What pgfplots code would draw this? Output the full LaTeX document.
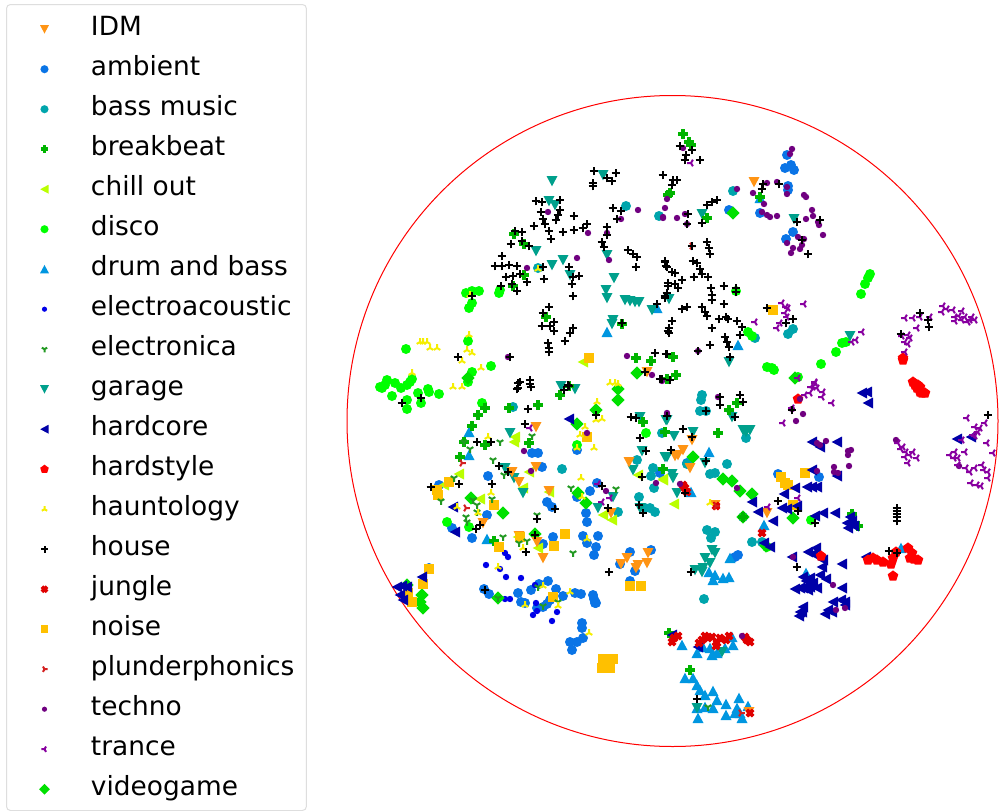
\documentclass[border=0pt]{standalone}
\usepackage{pgfplots}
\pgfplotsset{compat=1.18}
\usepackage{fontspec}
\setmainfont{DejaVu Sans}
\definecolor{cIDM}{HTML}{FF9414}
\definecolor{cAmb}{HTML}{0A74E6}
\definecolor{cBass}{HTML}{00A5AC}
\definecolor{cBreak}{HTML}{00B400}
\definecolor{cChill}{HTML}{BAFF00}
\definecolor{cDisco}{HTML}{00FF00}
\definecolor{cDrum}{HTML}{0096E0}
\definecolor{cEa}{HTML}{0000E8}
\definecolor{cEl}{HTML}{229922}
\definecolor{cGar}{HTML}{00A08C}
\definecolor{cHc}{HTML}{0000A8}
\definecolor{cHs}{HTML}{FF0000}
\definecolor{cHau}{HTML}{F5EE00}
\definecolor{cJun}{HTML}{E00000}
\definecolor{cNoi}{HTML}{FFC000}
\definecolor{cPlu}{HTML}{D42020}
\definecolor{cTec}{HTML}{700080}
\definecolor{cTra}{HTML}{8800A0}
\definecolor{cVid}{HTML}{00E000}
\pgfdeclareplotmark{mDown}{\pgfpathmoveto{\pgfpoint{-5.5pt}{5pt}}\pgfpathlineto{\pgfpoint{5.5pt}{5pt}}\pgfpathlineto{\pgfpoint{0pt}{-5.3pt}}\pgfpathclose\pgfusepathqfill}
\pgfdeclareplotmark{mUp}{\pgfpathmoveto{\pgfpoint{-5.5pt}{-5pt}}\pgfpathlineto{\pgfpoint{5.5pt}{-5pt}}\pgfpathlineto{\pgfpoint{0pt}{5.3pt}}\pgfpathclose\pgfusepathqfill}
\pgfdeclareplotmark{mLeft}{\pgfpathmoveto{\pgfpoint{5pt}{-5.5pt}}\pgfpathlineto{\pgfpoint{5pt}{5.5pt}}\pgfpathlineto{\pgfpoint{-5.3pt}{0pt}}\pgfpathclose\pgfusepathqfill}
\pgfdeclareplotmark{mCirc}{\pgfpathcircle{\pgfpointorigin}{5pt}\pgfusepathqfill}
\pgfdeclareplotmark{mDot}{\pgfpathcircle{\pgfpointorigin}{3.2pt}\pgfusepathqfill}
\pgfdeclareplotmark{mSq}{\pgfpathrectangle{\pgfpoint{-4.8pt}{-4.8pt}}{\pgfpoint{9.6pt}{9.6pt}}\pgfusepathqfill}
\pgfdeclareplotmark{mDia}{\pgfpathmoveto{\pgfpoint{-6.6pt}{0pt}}\pgfpathlineto{\pgfpoint{0pt}{6.6pt}}\pgfpathlineto{\pgfpoint{6.6pt}{0pt}}\pgfpathlineto{\pgfpoint{0pt}{-6.6pt}}\pgfpathclose\pgfusepathqfill}
\pgfdeclareplotmark{mPent}{\pgfpathmoveto{\pgfpoint{0pt}{5.6pt}}\pgfpathlineto{\pgfpoint{5.3pt}{1.7pt}}\pgfpathlineto{\pgfpoint{3.3pt}{-4.5pt}}\pgfpathlineto{\pgfpoint{-3.3pt}{-4.5pt}}\pgfpathlineto{\pgfpoint{-5.3pt}{1.7pt}}\pgfpathclose\pgfusepathqfill}
\pgfdeclareplotmark{mP}{\pgfsetlinewidth{3.6pt}\pgfpathmoveto{\pgfpoint{-4.8pt}{0pt}}\pgfpathlineto{\pgfpoint{4.8pt}{0pt}}\pgfpathmoveto{\pgfpoint{0pt}{-4.8pt}}\pgfpathlineto{\pgfpoint{0pt}{4.8pt}}\pgfusepathqstroke}
\pgfdeclareplotmark{mX}{\pgfsetlinewidth{3.6pt}\pgfpathmoveto{\pgfpoint{-3.2pt}{-3.2pt}}\pgfpathlineto{\pgfpoint{3.2pt}{3.2pt}}\pgfpathmoveto{\pgfpoint{-3.2pt}{3.2pt}}\pgfpathlineto{\pgfpoint{3.2pt}{-3.2pt}}\pgfusepathqstroke}
\pgfdeclareplotmark{mPlus}{\pgfsetlinewidth{2pt}\pgfpathmoveto{\pgfpoint{-4.3pt}{0pt}}\pgfpathlineto{\pgfpoint{4.3pt}{0pt}}\pgfpathmoveto{\pgfpoint{0pt}{-4.3pt}}\pgfpathlineto{\pgfpoint{0pt}{4.3pt}}\pgfusepathqstroke}
\pgfdeclareplotmark{mT1}{\pgfsetlinewidth{2pt}\pgfpathmoveto{\pgfpointorigin}\pgfpathlineto{\pgfpoint{0pt}{-3.8pt}}\pgfpathmoveto{\pgfpointorigin}\pgfpathlineto{\pgfpoint{3.3pt}{1.9pt}}\pgfpathmoveto{\pgfpointorigin}\pgfpathlineto{\pgfpoint{-3.3pt}{1.9pt}}\pgfusepathqstroke}
\pgfdeclareplotmark{mT2}{\pgfsetlinewidth{2pt}\pgfpathmoveto{\pgfpointorigin}\pgfpathlineto{\pgfpoint{0pt}{3.8pt}}\pgfpathmoveto{\pgfpointorigin}\pgfpathlineto{\pgfpoint{3.3pt}{-1.9pt}}\pgfpathmoveto{\pgfpointorigin}\pgfpathlineto{\pgfpoint{-3.3pt}{-1.9pt}}\pgfusepathqstroke}
\pgfdeclareplotmark{mT3}{\pgfsetlinewidth{2pt}\pgfpathmoveto{\pgfpointorigin}\pgfpathlineto{\pgfpoint{-3.8pt}{0pt}}\pgfpathmoveto{\pgfpointorigin}\pgfpathlineto{\pgfpoint{1.9pt}{3.3pt}}\pgfpathmoveto{\pgfpointorigin}\pgfpathlineto{\pgfpoint{1.9pt}{-3.3pt}}\pgfusepathqstroke}
\pgfdeclareplotmark{mT4}{\pgfsetlinewidth{2pt}\pgfpathmoveto{\pgfpointorigin}\pgfpathlineto{\pgfpoint{3.8pt}{0pt}}\pgfpathmoveto{\pgfpointorigin}\pgfpathlineto{\pgfpoint{-1.9pt}{3.3pt}}\pgfpathmoveto{\pgfpointorigin}\pgfpathlineto{\pgfpoint{-1.9pt}{-3.3pt}}\pgfusepathqstroke}
\pgfplotsset{
 sIDM/.style={only marks,color=cIDM,mark=mDown},
 sAmb/.style={only marks,color=cAmb,mark=mCirc},
 sBass/.style={only marks,color=cBass,mark=mCirc},
 sBreak/.style={only marks,color=cBreak,mark=mP},
 sChill/.style={only marks,color=cChill,mark=mLeft},
 sDisco/.style={only marks,color=cDisco,mark=mCirc},
 sDrum/.style={only marks,color=cDrum,mark=mUp},
 sEa/.style={only marks,color=cEa,mark=mDot},
 sEl/.style={only marks,color=cEl,mark=mT1},
 sGar/.style={only marks,color=cGar,mark=mDown},
 sHc/.style={only marks,color=cHc,mark=mLeft},
 sHs/.style={only marks,color=cHs,mark=mPent},
 sHau/.style={only marks,color=cHau,mark=mT2},
 sHou/.style={only marks,color=black,mark=mPlus},
 sJun/.style={only marks,color=cJun,mark=mX},
 sNoi/.style={only marks,color=cNoi,mark=mSq},
 sPlu/.style={only marks,color=cPlu,mark=mT4},
 sTec/.style={only marks,color=cTec,mark=mDot},
 sTra/.style={only marks,color=cTra,mark=mT3},
 sVid/.style={only marks,color=cVid,mark=mDia},
}
\begin{document}
\begin{tikzpicture}
\useasboundingbox (0,0) rectangle (999pt,811pt);
\begin{axis}[
 at={(0,0)},anchor=south west,scale only axis,width=999pt,height=811pt,
 xmin=0,xmax=999,ymin=0,ymax=811,y dir=reverse,hide axis,clip=false,
 legend cell align=left,
 legend image code/.code={\begin{scope}[scale=0.9]\draw[mark repeat=2,mark phase=2,#1,mark options={scale=0.9}] plot coordinates {(0pt,7pt) (0pt,7pt) (0pt,7pt)};\end{scope}\path (-25.5pt,0pt) (46pt,0pt);},
 legend style={at={(axis cs:6,4)},anchor=north west,draw=black!13,line width=1pt,rounded corners=4pt,
  font=\fontsize{26.4}{26.4}\selectfont,inner xsep=12pt,inner ysep=9pt,row sep=12pt,column sep=0pt,
  nodes={inner sep=0pt,text height=22pt,text depth=6pt,anchor=base west}},
]
\addlegendimage{sIDM}\addlegendentry{IDM}
\addlegendimage{sAmb}\addlegendentry{ambient}
\addlegendimage{sBass}\addlegendentry{bass music}
\addlegendimage{sBreak}\addlegendentry{breakbeat}
\addlegendimage{sChill}\addlegendentry{chill out}
\addlegendimage{sDisco}\addlegendentry{disco}
\addlegendimage{sDrum}\addlegendentry{drum and bass}
\addlegendimage{sEa}\addlegendentry{electroacoustic}
\addlegendimage{sEl}\addlegendentry{electronica}
\addlegendimage{sGar}\addlegendentry{garage}
\addlegendimage{sHc}\addlegendentry{hardcore}
\addlegendimage{sHs}\addlegendentry{hardstyle}
\addlegendimage{sHau}\addlegendentry{hauntology}
\addlegendimage{sHou}\addlegendentry{house}
\addlegendimage{sJun}\addlegendentry{jungle}
\addlegendimage{sNoi}\addlegendentry{noise}
\addlegendimage{sPlu}\addlegendentry{plunderphonics}
\addlegendimage{sTec}\addlegendentry{techno}
\addlegendimage{sTra}\addlegendentry{trance}
\addlegendimage{sVid}\addlegendentry{videogame}
% ambient
\addplot[sAmb,forget plot] coordinates {(787,155)(785,168)(791,165)(794,170)(788,186)(788,190)(729,210)(760,213)(793,232)(786,239)(488,476)(484,589)(489,594)(518,593)(531,590)(539,584)(548,581)(556,589)(563,596)(575,593)(581,594)(593,595)(594,599)(596,603)(582,623)(550,600)(521,602)(537,608)(547,604)(525,603)(487,515)(472,538)(452,528)(577,450)(532,453)(538,453)(542,467)(547,502)(552,507)(586,513)(587,522)(590,491)(597,483)(577,497)(553,537)(543,544)(583,536)(587,543)(598,536)(596,547)(594,555)(630,552)(620,564)(635,571)(651,550)(630,581)(429,568)(439,485)(660,473)(735,557)(738,555)(778,474)(819,477)(743,517)(687,463)(582,628)(583,638)(577,642)(570,642)(572,650)(595,603)(543,607)};
% bass music
\addplot[sBass,forget plot] coordinates {(733,191)(755,338)(793,329)(788,334)(626,206)(659,216)(538,268)(513,407)(562,469)(662,433)(653,468)(651,476)(654,488)(637,460)(639,497)(618,512)(645,508)(655,512)(650,508)(702,395)(701,400)(700,411)(706,411)(746,438)(727,464)(710,474)(715,473)(687,464)(752,542)(707,530)(715,532)(711,538)(704,599)(762,542)};
% drum and bass
\addplot[sDrum,forget plot] coordinates {(760,198)(738,345)(657,308)(607,332)(469,432)(469,455)(487,539)(709,452)(691,492)(764,525)(730,558)(709,572)(715,575)(713,580)(729,577)(723,578)(901,548)(806,573)(682,645)(697,653)(703,647)(710,648)(712,655)(717,653)(725,648)(732,637)(733,645)(685,678)(693,678)(697,685)(700,690)(705,695)(713,691)(717,700)(726,704)(739,698)(726,715)(697,708)(705,707)(713,708)(698,718)(737,708)(748,706)(740,713)(742,718)(735,713)};
% electroacoustic
\addplot[sEa,forget plot] coordinates {(505,553)(508,557)(486,565)(500,569)(506,577)(521,578)(535,585)(510,599)(505,599)(536,603)(537,611)(533,615)(552,621)(557,612)};
% disco
\addplot[sDisco,forget plot] coordinates {(870,274)(868,278)(865,284)(861,294)(748,332)(752,336)(821,364)(836,352)(842,343)(846,342)(767,367)(772,368)(774,370)(798,377)(736,291)(466,293)(472,291)(479,291)(499,293)(500,290)(472,303)(469,308)(406,349)(468,341)(491,366)(472,372)(387,380)(380,387)(395,383)(412,379)(407,385)(428,389)(382,388)(392,396)(401,388)(410,382)(407,400)(418,393)(407,409)(421,403)(429,392)(439,394)(482,403)(468,382)(447,522)(469,527)(577,445)(646,433)(385,385)(811,520)(767,547)};
% chill out
\addplot[sChill,forget plot] coordinates {(583,362)(515,437)(514,442)(459,474)(444,485)(480,499)(529,472)(523,488)(549,492)(603,515)(612,520)(518,537)(538,548)(638,475)(663,480)(674,504)(663,479)};
% garage
\addplot[sGar,forget plot] coordinates {(552,181)(603,175)(549,201)(555,205)(536,251)(552,265)(563,260)(570,275)(607,255)(614,278)(606,290)(607,298)(625,300)(630,301)(635,302)(639,302)(652,310)(613,320)(612,324)(561,386)(575,389)(702,214)(794,219)(669,299)(850,336)(729,362)(640,417)(666,420)(510,433)(505,468)(514,478)(523,493)(598,508)(613,497)(642,451)(665,457)(633,470)(640,508)(667,420)(693,432)(674,436)(743,430)(750,430)(746,432)(667,457)(672,474)(673,478)(677,493)(732,417)(705,463)(712,550)(715,553)(705,558)(710,563)(695,570)(703,568)(702,572)(697,708)(722,652)};
% videogame
\addplot[sVid,forget plot] coordinates {(733,213)(795,378)(468,378)(637,373)(471,498)(503,513)(535,534)(577,424)(596,410)(618,400)(618,389)(498,598)(578,493)(586,503)(422,595)(420,602)(423,608)(407,585)(693,457)(723,479)(732,481)(740,491)(752,494)(793,518)(743,517)(766,546)};
% breakbeat
\addplot[sBreak,forget plot] coordinates {(683,134)(689,142)(691,145)(670,193)(760,197)(707,218)(673,357)(667,379)(676,375)(514,234)(524,244)(524,275)(513,286)(546,317)(622,324)(636,358)(651,361)(569,386)(668,195)(485,408)(478,415)(509,408)(538,405)(472,426)(464,442)(485,445)(460,457)(529,443)(560,395)(643,422)(663,469)(494,541)(729,410)(737,403)(718,433)(665,432)(743,517)(852,514)(858,526)(690,670)(669,633)};
% IDM
\addplot[sIDM,forget plot] coordinates {(754,182)(647,372)(536,427)(536,467)(512,472)(519,482)(549,491)(483,523)(537,542)(543,558)(519,536)(611,513)(627,558)(621,564)(636,568)(638,565)(648,553)(647,563)(629,462)(692,440)(683,450)(678,455)(675,456)(690,468)(767,513)(715,505)(749,712)};
% noise
\addplot[sNoi,forget plot] coordinates {(589,358)(773,310)(449,482)(437,490)(438,495)(494,505)(587,437)(565,534)(554,546)(520,537)(499,547)(429,569)(423,584)(408,593)(412,602)(630,586)(641,586)(553,597)(781,477)(788,485)(793,505)(805,473)(785,483)(603,659)(613,659)(602,668)(610,668)(608,662)};
% hardcore
\addplot[sHc,forget plot] coordinates {(569,419)(453,507)(455,532)(422,577)(402,586)(397,587)(407,587)(400,595)(403,600)(862,393)(867,392)(868,403)(812,442)(837,442)(820,447)(837,476)(812,470)(807,487)(817,487)(812,487)(795,488)(784,494)(752,502)(758,512)(782,508)(787,509)(797,506)(773,521)(815,516)(823,513)(835,513)(847,523)(852,521)(848,528)(764,543)(770,547)(792,557)(808,552)(813,554)(823,560)(822,567)(842,564)(820,575)(826,579)(803,577)(795,589)(803,588)(808,590)(817,588)(813,583)(842,588)(833,602)(845,602)(845,605)(803,607)(800,612)(799,616)(832,612)(825,614)(957,439)(971,437)(866,557)(698,647)(672,635)(806,581)(810,587)(810,578)(800,588)(802,612)(828,610)(841,600)(816,548)(854,526)(850,517)};
% hardstyle
\addplot[sHs,forget plot] coordinates {(903,360)(913,382)(920,387)(798,399)(917,388)(922,393)(925,393)(918,385)(868,560)(877,560)(883,562)(891,564)(893,558)(893,576)(908,548)(910,558)(918,560)(821,556)(920,392)(915,385)(873,558)(896,552)(912,553)(914,559)(903,358)};
% jungle
\addplot[sJun,forget plot] coordinates {(762,533)(685,488)(716,506)(674,638)(702,640)(708,638)(717,643)(729,636)(747,640)(712,637)(750,713)(699,643)(705,636)(720,638)(745,637)(750,642)(672,642)(678,636)(726,640)(716,646)(683,485)(687,492)};
% electronica
\addplot[sEl,forget plot] coordinates {(493,460)(504,475)(454,478)(441,501)(492,499)(473,500)(477,505)(477,512)(466,517)(467,522)(470,449)(500,442)(532,436)(537,515)(503,537)(527,541)(519,543)(573,553)(571,488)(616,489)(543,606)(558,602)(498,598)(464,442)(538,587)(708,707)};
% hauntology
\addplot[sHau,forget plot] coordinates {(470,295)(538,269)(423,342)(420,342)(427,342)(430,348)(437,348)(469,335)(467,350)(472,353)(462,361)(481,368)(412,373)(453,387)(462,387)(610,383)(615,383)(618,384)(597,402)(596,420)(602,419)(585,427)(580,435)(594,448)(488,437)(581,478)(491,493)(582,497)(457,507)(478,513)(577,448)(587,539)(523,548)(498,567)(543,586)(558,606)(525,605)(570,592)(710,503)(589,633)};
% techno
\addplot[sTec,forget plot] coordinates {(792,149)(790,154)(777,182)(767,183)(787,187)(787,194)(753,193)(764,204)(804,195)(806,197)(812,210)(813,216)(806,219)(818,222)(819,225)(823,235)(767,215)(770,217)(777,216)(762,212)(798,237)(804,239)(802,245)(800,249)(793,248)(791,253)(787,243)(737,189)(667,199)(665,208)(677,218)(663,218)(685,214)(687,224)(683,148)(548,212)(577,258)(527,268)(588,233)(607,233)(609,260)(638,210)(621,219)(663,217)(508,357)(627,356)(652,375)(698,351)(524,451)(531,471)(587,433)(606,491)(667,413)(656,483)(662,381)(800,399)(792,409)(803,414)(796,421)(817,443)(826,441)(820,445)(848,451)(851,450)(848,455)(834,467)(834,472)(838,473)(849,466)(817,471)(737,488)(680,484)(667,414)(718,397)(833,585)(836,610)(845,608)(793,557)(959,466)(896,440)(742,636)};
% trance
\addplot[sTra,forget plot] coordinates {(691,163)(782,303)(786,307)(788,308)(785,313)(787,317)(804,304)(780,323)(777,328)(755,322)(862,332)(856,340)(852,342)(905,318)(913,318)(920,317)(930,317)(917,328)(905,342)(908,344)(905,352)(943,306)(942,312)(953,310)(962,311)(955,317)(955,321)(965,317)(972,317)(975,320)(970,320)(815,382)(813,387)(798,378)(530,428)(598,484)(610,498)(602,502)(815,383)(817,388)(810,393)(805,395)(822,397)(832,403)(792,408)(783,423)(798,498)(768,507)(898,443)(903,447)(910,455)(905,457)(917,458)(908,463)(967,418)(985,423)(975,427)(978,432)(973,435)(962,440)(987,443)(955,452)(950,455)(965,452)(993,453)(958,465)(982,465)(975,468)(970,472)(988,472)(988,478)(977,485)(959,316)(962,320)(968,322)(947,309)(901,449)(906,452)(913,452)(975,436)(980,428)(958,458)(954,458)(984,470)(966,468)(971,483)(981,486)(908,335)(910,338)(902,336)(811,387)(823,392)};
% plunderphonics
\addplot[sPlu,forget plot] coordinates {(692,246)(462,463)(466,508)(716,506)(741,713)};
% house
\addplot[sHou,forget plot] coordinates {(594,171)(616,173)(607,178)(612,181)(593,186)(593,183)(536,201)(542,202)(560,200)(541,212)(560,210)(558,215)(556,220)(543,219)(545,224)(534,226)(549,231)(551,239)(574,216)(563,232)(574,230)(583,228)(587,224)(607,227)(607,235)(602,242)(604,247)(613,208)(621,211)(617,219)(515,231)(522,232)(522,241)(511,244)(529,246)(502,256)(495,266)(502,266)(509,265)(517,266)(543,267)(506,277)(513,276)(520,274)(527,282)(544,279)(501,286)(512,284)(517,291)(569,267)(579,276)(573,277)(572,284)(573,296)(628,250)(633,254)(637,257)(636,267)(665,262)(667,267)(668,283)(667,293)(665,298)(657,304)(549,307)(543,313)(554,322)(542,326)(550,326)(554,331)(573,328)(570,333)(565,341)(548,343)(549,348)(549,352)(622,323)(668,331)(458,357)(510,357)(655,353)(667,354)(645,372)(660,379)(520,382)(530,380)(518,388)(531,387)(569,386)(472,296)
(680,146)(692,150)(686,155)(685,160)(700,160)(663,175)(673,180)(677,180)(672,185)(707,205)(712,202)(717,200)(688,214)(702,223)(687,224)(763,184)(762,189)(779,184)(797,222)(820,220)(802,240)(808,254)(707,242)(709,248)(710,254)(692,246)(665,261)(666,266)(672,272)(675,273)(693,261)(697,263)(700,269)(702,274)(694,277)(708,277)(682,280)(668,286)(675,284)(678,288)(711,288)(712,295)(712,300)(724,286)(736,288)(736,292)(667,293)(665,296)(724,304)(702,307)(705,312)(707,316)(682,309)(687,307)(719,319)(726,317)(728,319)(737,321)(672,321)(669,328)(669,333)(712,328)(742,327)(740,335)(725,337)(727,342)(729,347)(710,345)(698,351)(666,354)(730,357)(767,308)(793,319)(786,323)(901,334)(920,313)(928,320)(929,327)(662,379)(670,380)
(518,383)(530,384)(517,389)(568,385)(564,390)(528,409)(596,415)(631,417)(636,418)(640,438)(421,398)(402,403)(477,442)(491,442)(525,424)(499,466)(508,472)(431,487)(459,484)(492,484)(602,486)(608,508)(639,505)(643,513)(555,509)(537,519)(480,525)(476,529)(535,535)(526,552)(609,572)(485,590)(646,451)(642,477)
(720,397)(740,395)(743,402)(720,405)(706,411)(683,429)(692,437)(671,450)(706,461)(667,416)(685,493)(735,417)(778,501)(798,511)(815,523)(792,410)(988,415)(897,508)(897,511)(897,514)(897,517)(897,521)(889,551)(897,553)(797,567)(691,572)(697,699)};
\draw[red,line width=1pt] (axis cs:672.5,421) circle[radius=325.5];
\end{axis}
\end{tikzpicture}
\end{document}
